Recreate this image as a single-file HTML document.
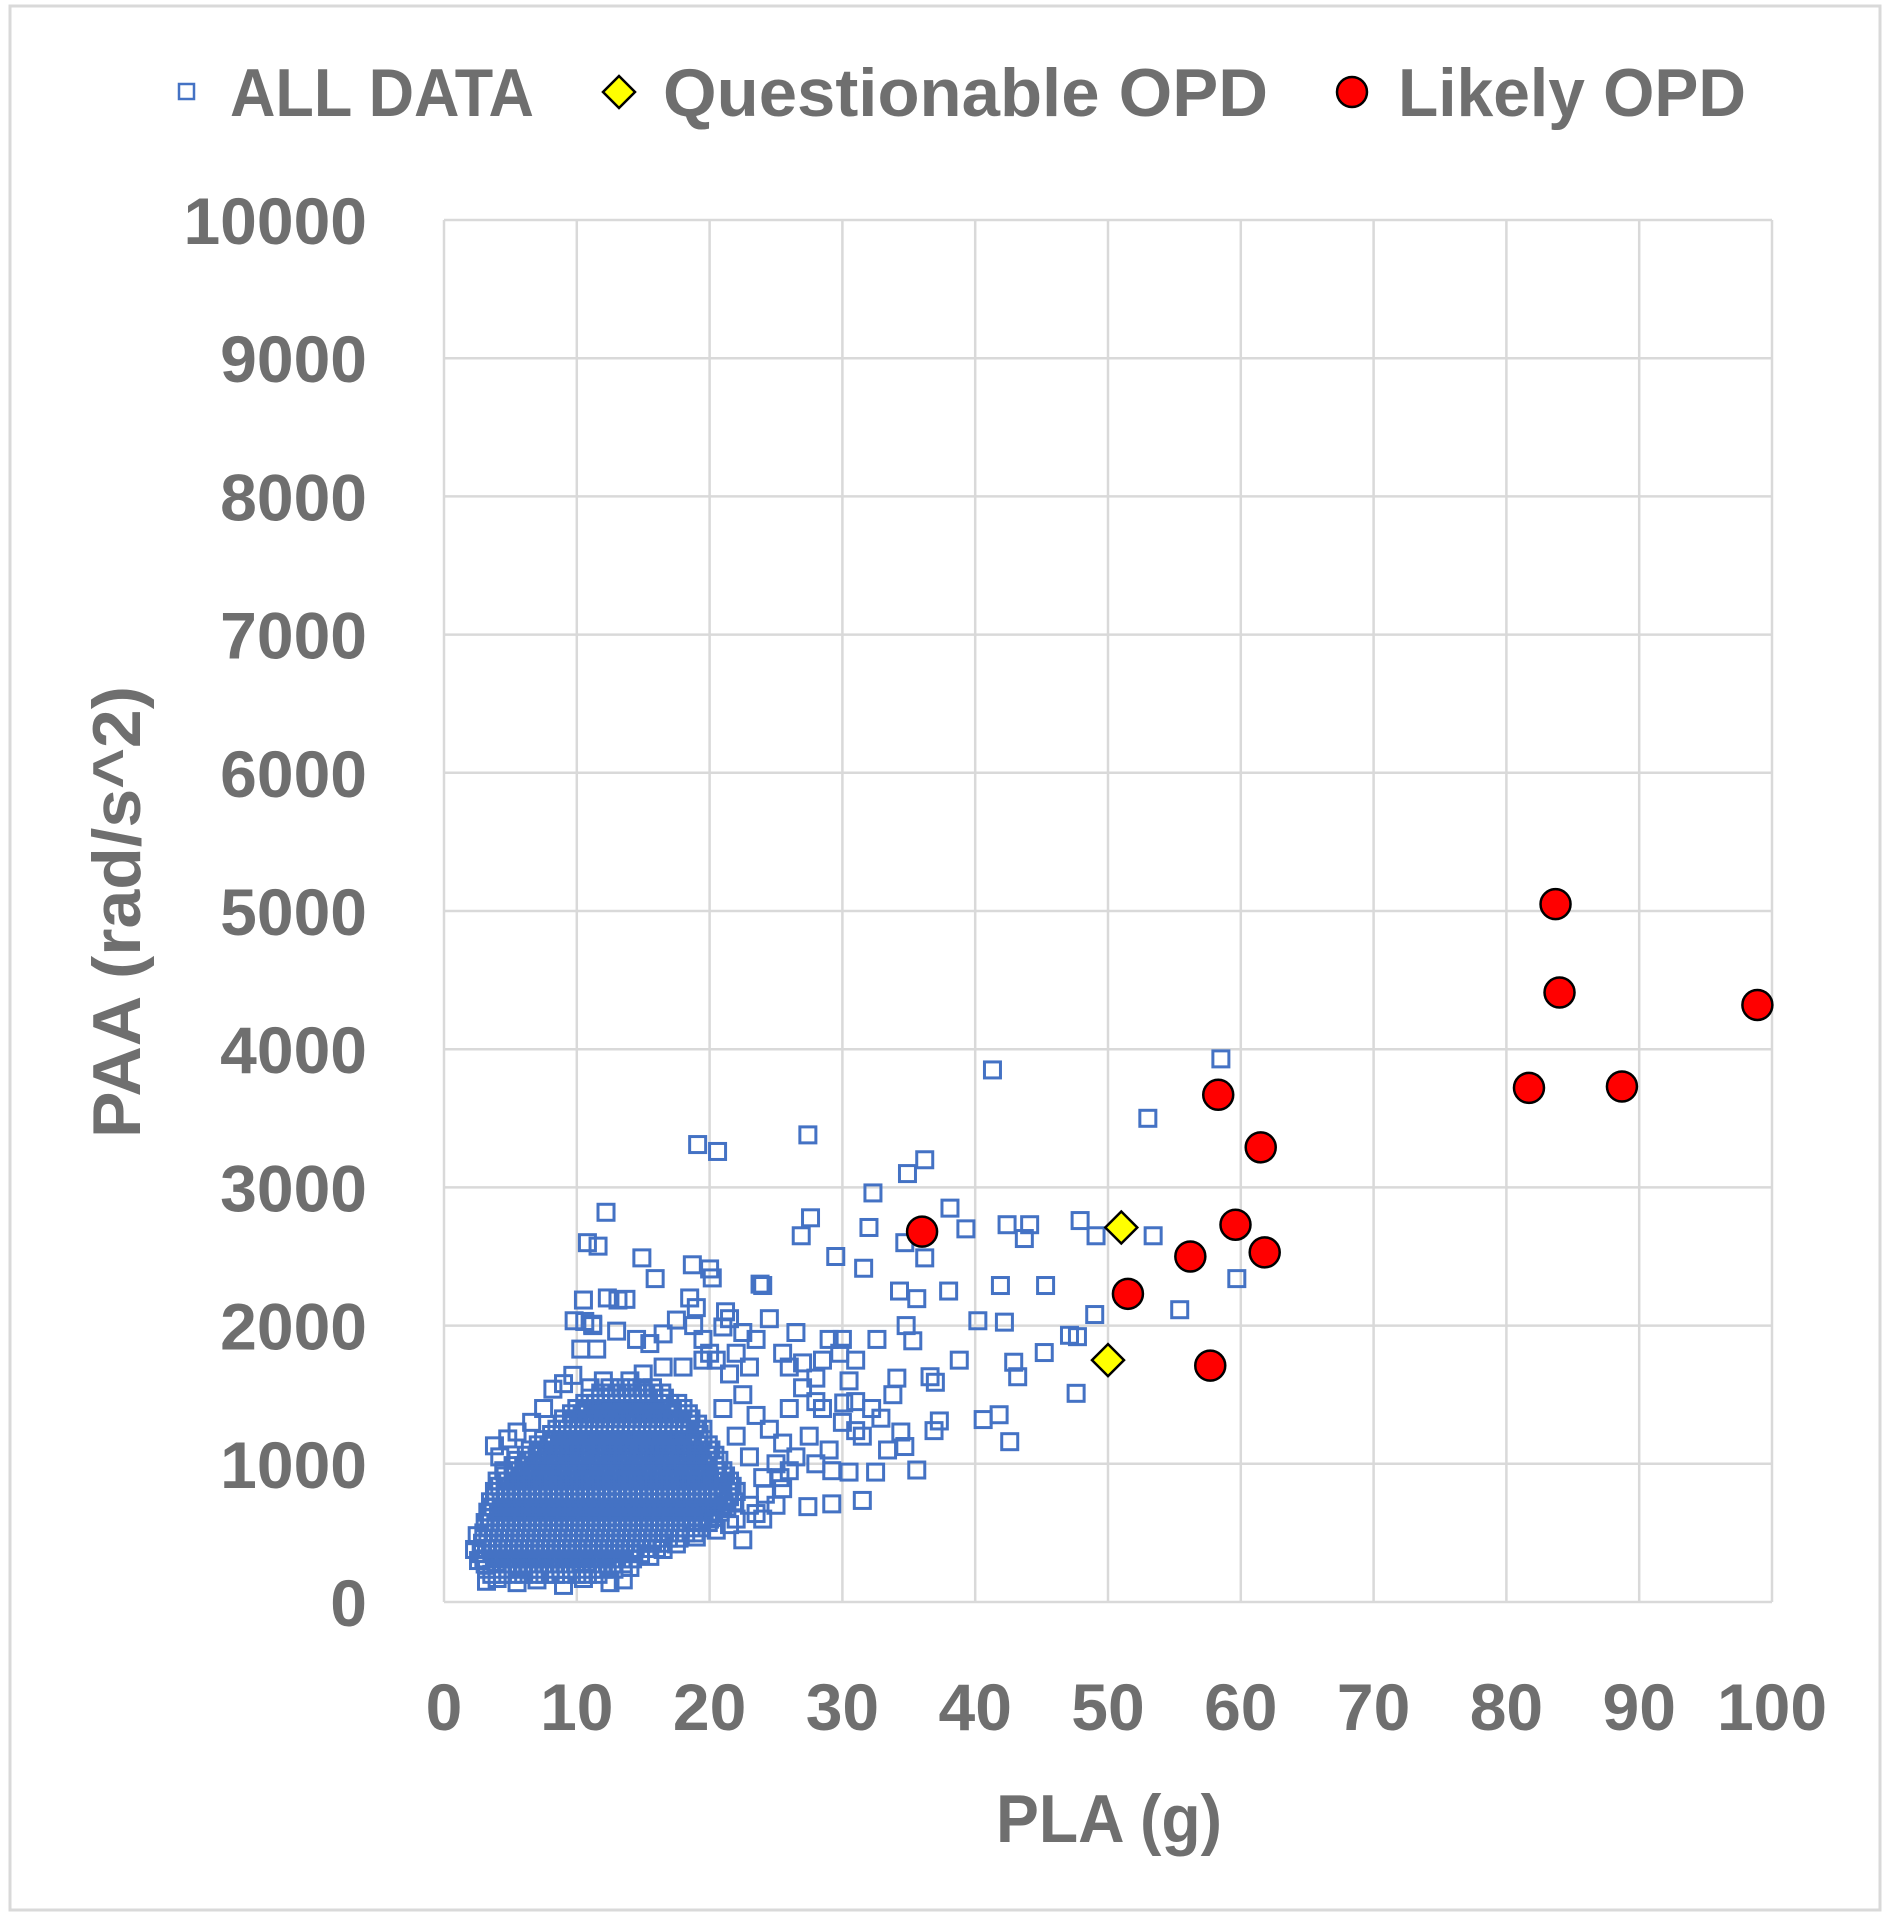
<!DOCTYPE html>
<html><head><meta charset="utf-8"><style>
html,body{margin:0;padding:0;background:#fff}
svg{display:block}
text{font-family:"Liberation Sans",sans-serif;font-weight:bold;fill:#6f6f6f}
</style></head><body>
<svg id="chart" width="1888" height="1920" viewBox="0 0 1888 1920" xmlns="http://www.w3.org/2000/svg">
<rect x="10" y="6" width="1870" height="1904" fill="#fff" stroke="#d9d9d9" stroke-width="3"/>
<g id="grid"></g>
<g id="ticks"></g>
<g id="allData"></g>
<g id="quest"></g>
<g id="likely"></g>
<g>
  <rect x="179" y="84" width="15" height="15" fill="none" stroke="#4472c4" stroke-width="2.5"/>
  <text x="230" y="116" font-size="68" textLength="304" lengthAdjust="spacingAndGlyphs">ALL DATA</text>
  <polygon points="619,76 635,92 619,108 603,92" fill="#ffff00" stroke="#000" stroke-width="2.5"/>
  <text x="663" y="116" font-size="68" textLength="605" lengthAdjust="spacingAndGlyphs">Questionable OPD</text>
  <circle cx="1352" cy="92" r="15" fill="#ff0000" stroke="#000" stroke-width="2.5"/>
  <text x="1398" y="116" font-size="68" textLength="348" lengthAdjust="spacingAndGlyphs">Likely OPD</text>
</g>
<text x="1109" y="1842" font-size="68" text-anchor="middle" textLength="226" lengthAdjust="spacingAndGlyphs">PLA (g)</text>
<text transform="translate(140,912) rotate(-90)" font-size="68" text-anchor="middle" textLength="452" lengthAdjust="spacingAndGlyphs">PAA (rad/s^2)</text>
</svg>
<script>
const xTicks=[0,10,20,30,40,50,60,70,80,90,100];
const yTicks=[0,1000,2000,3000,4000,5000,6000,7000,8000,9000,10000];
const likelyX=[36,58.3,61.5,59.6,61.8,56.2,51.5,57.7,83.7,84,81.7,88.7,98.9];
const likelyY=[2680,3670,3290,2730,2530,2500,2230,1710,5050,4410,3720,3730,4320];
const questX=[51,50];
const questY=[2710,1750];
const blobRowY=[200,275,350,425,500,575,650,725,800,875,950,1025,1100,1175,1250,1325,1400,1475,1550,
237,312,387,462,537,612,687,762,837,912,987,1062,1137,1212,1287,1362,1437,1512];
const blobRowX=[
[3.6,4.4,5.2,6.0,6.8,7.6,8.4,9.2,10.0,10.8,11.6],
[3.1,3.9,4.7,5.5,6.3,7.1,7.9,8.7,9.5,10.3,11.1,11.9,12.7,13.5],
[2.8,3.6,4.4,5.2,6.0,6.8,7.6,8.4,9.2,10.0,10.8,11.6,12.4,13.2,14.0,14.8],
[2.9,3.7,4.5,5.3,6.1,6.9,7.7,8.5,9.3,10.1,10.9,11.7,12.5,13.3,14.1,14.9,15.7,16.5],
[3.0,3.8,4.6,5.4,6.2,7.0,7.8,8.6,9.4,10.2,11.0,11.8,12.6,13.4,14.2,15.0,15.8,16.6,17.4,18.2,18.9],
[3.1,3.9,4.7,5.5,6.3,7.1,7.9,8.7,9.5,10.3,11.1,11.9,12.7,13.5,14.3,15.1,15.9,16.7,17.5,18.3,19.1,19.9],
[3.3,4.1,4.9,5.7,6.5,7.3,8.1,8.9,9.7,10.5,11.3,12.1,12.9,13.7,14.5,15.3,16.1,16.9,17.7,18.5,19.3,20.1,20.8],
[3.5,4.3,5.1,5.9,6.7,7.5,8.3,9.1,9.9,10.7,11.5,12.3,13.1,13.9,14.7,15.5,16.3,17.1,17.9,18.7,19.5,20.3,21.1,21.9],
[3.8,4.6,5.4,6.2,7.0,7.8,8.6,9.4,10.2,11.0,11.8,12.6,13.4,14.2,15.0,15.8,16.6,17.4,18.2,19.0,19.8,20.6,21.4,22.0],
[4.0,4.8,5.6,6.4,7.2,8.0,8.8,9.6,10.4,11.2,12.0,12.8,13.6,14.4,15.2,16.0,16.8,17.6,18.4,19.2,20.0,20.8,21.5],
[4.5,5.3,6.1,6.9,7.7,8.5,9.3,10.1,10.9,11.7,12.5,13.3,14.1,14.9,15.7,16.5,17.3,18.1,18.9,19.7,20.5,21.0],
[5.5,6.3,7.1,7.9,8.7,9.5,10.3,11.1,11.9,12.7,13.5,14.3,15.1,15.9,16.7,17.5,18.3,19.1,19.9,20.7],
[6.5,7.3,8.1,8.9,9.7,10.5,11.3,12.1,12.9,13.7,14.5,15.3,16.1,16.9,17.7,18.5,19.3,20.1],
[7.5,8.3,9.1,9.9,10.7,11.5,12.3,13.1,13.9,14.7,15.5,16.3,17.1,17.9,18.7,19.5],
[8.5,9.3,10.1,10.9,11.7,12.5,13.3,14.1,14.9,15.7,16.5,17.3,18.1,18.9,19.5],
[9.0,9.8,10.6,11.4,12.2,13.0,13.8,14.6,15.4,16.2,17.0,17.8,18.6],
[10.0,10.8,11.6,12.4,13.2,14.0,14.8,15.6,16.4,17.2,18.0],
[11.0,11.8,12.6,13.4,14.2,15.0,15.8,16.6],
[12.5,13.3,14.1,14.9,15.7],
[3.2,4.0,4.8,5.6,6.4,7.2,8.0,8.8,9.6,10.4,11.2,12.0,12.8],
[3.0,3.8,4.6,5.4,6.2,7.0,7.8,8.6,9.4,10.2,11.0,11.8,12.6,13.4,14.2],
[3.2,4.0,4.8,5.6,6.4,7.2,8.0,8.8,9.6,10.4,11.2,12.0,12.8,13.6,14.4,15.2,16.0],
[3.3,4.1,4.9,5.7,6.5,7.3,8.1,8.9,9.7,10.5,11.3,12.1,12.9,13.7,14.5,15.3,16.1,16.9,17.7],
[3.4,4.2,5.0,5.8,6.6,7.4,8.2,9.0,9.8,10.6,11.4,12.2,13.0,13.8,14.6,15.4,16.2,17.0,17.8,18.6,19.4],
[3.5,4.3,5.1,5.9,6.7,7.5,8.3,9.1,9.9,10.7,11.5,12.3,13.1,13.9,14.7,15.5,16.3,17.1,17.9,18.7,19.5,20.3],
[3.7,4.5,5.3,6.1,6.9,7.7,8.5,9.3,10.1,10.9,11.7,12.5,13.3,14.1,14.9,15.7,16.5,17.3,18.1,18.9,19.7,20.5,21.3],
[3.9,4.7,5.5,6.3,7.1,7.9,8.7,9.5,10.3,11.1,11.9,12.7,13.5,14.3,15.1,15.9,16.7,17.5,18.3,19.1,19.9,20.7,21.5],
[4.2,5.0,5.8,6.6,7.4,8.2,9.0,9.8,10.6,11.4,12.2,13.0,13.8,14.6,15.4,16.2,17.0,17.8,18.6,19.4,20.2,21.0,21.7],
[4.6,5.4,6.2,7.0,7.8,8.6,9.4,10.2,11.0,11.8,12.6,13.4,14.2,15.0,15.8,16.6,17.4,18.2,19.0,19.8,20.6,21.2],
[5.2,6.0,6.8,7.6,8.4,9.2,10.0,10.8,11.6,12.4,13.2,14.0,14.8,15.6,16.4,17.2,18.0,18.8,19.6,20.4],
[6.2,7.0,7.8,8.6,9.4,10.2,11.0,11.8,12.6,13.4,14.2,15.0,15.8,16.6,17.4,18.2,19.0,19.8,20.4],
[7.1,7.9,8.7,9.5,10.3,11.1,11.9,12.7,13.5,14.3,15.1,15.9,16.7,17.5,18.3,19.1,19.9],
[8.1,8.9,9.7,10.5,11.3,12.1,12.9,13.7,14.5,15.3,16.1,16.9,17.7,18.5,19.2],
[8.9,9.7,10.5,11.3,12.1,12.9,13.7,14.5,15.3,16.1,16.9,17.7,18.5,19.1],
[9.6,10.4,11.2,12.0,12.8,13.6,14.4,15.2,16.0,16.8,17.6,18.4],
[10.6,11.4,12.2,13.0,13.8,14.6,15.4,16.2,17.0,17.6],
[11.8,12.6,13.4,14.2,15.0,15.8,16.4]];
const scatterX=[2.3,2.5,2.6,3.2,4.0,5.5,7.0,9.0,10.5,12.5,13.5,14,15.5,16.5,17.5,19,20.5,21.5,22.5,23.5,24,25,25.5,26,3.8,4.2,4.8,5.5,6.6,7.5,8.2,9,9.7,10.3,11.5,10.6,11.2,12.3,13.0,13.7,14.5,15.5,16.5,17.5,18.5,19.0,19.5,21.0,21.5,22.5,23.0,24,24.5,25.5,26.5,27,28,28.5,29,29.8,30.5,21.5,22.5,23.5,24.5,25.5,26.5,27.5,28.5,22,23,24,25,26,27,28,29,30,31,31.5,20.5,21,22,23,24.2,25.3,19.5,18,16.5,15,14,12,11,20,21,22,18.8,20.0,22,23.5,26,28,30,31,
58.5,41.3,53,19.1,20.6,27.4,36.2,34.9,32.3,38.1,12.2,27.6,47.9,44.1,42.4,32,39.3,26.9,49.1,53.4,43.7,34.7,10.8,11.6,29.5,14.9,36.2,18.7,20,20.2,15.9,31.6,59.7,41.9,45.3,23.8,34.3,38,35.6,10.5,13.1,21.2,55.4,49,40.2,42.2,34.8,9.8,11.2,47.1,47.7,45.2,35.3,32.6,38.8,42.9,43.2,34.1,36.6,37,47.6,41.8,40.6,42.6,37.3,36.9,34.4,34.7,33.4,35.6,32.5,31.5,29.2,27.4,30.5,29.2,33.8,32.9,31,30.1,32.2];
const scatterY=[380,480,300,150,170,140,160,120,170,140,160,250,330,380,420,470,520,560,450,640,600,700,820,950,1130,1050,1180,1230,1300,1400,1540,1580,1640,1830,1830,2030,2000,2200,1960,2190,1900,1870,1940,2040,2200,2130,1900,1990,2050,1950,1700,2290,2050,1800,1950,1730,1620,1750,1900,1800,1600,1650,1500,1350,1250,1150,1050,1200,1400,1200,1050,900,1000,1400,1550,1000,1100,1300,1450,1200,1750,1400,800,700,780,900,1750,1700,1700,1650,1600,1600,1550,600,700,600,2000,1800,1800,1900,1700,1450,1900,1750,
3930,3850,3500,3310,3260,3380,3200,3100,2960,2850,2820,2780,2760,2730,2730,2710,2700,2650,2650,2650,2630,2600,2600,2575,2500,2490,2490,2440,2410,2345,2340,2415,2340,2290,2290,2300,2250,2250,2195,2185,2185,2100,2115,2080,2035,2025,2000,2035,2010,1930,1920,1805,1890,1900,1750,1735,1630,1620,1630,1590,1510,1355,1320,1160,1310,1240,1230,1125,1100,955,940,735,710,690,940,950,1500,1330,1240,1440,1400];

const NS='http://www.w3.org/2000/svg';
const PL=444,PR=1772,PT=220,PB=1602;
function xs(v){return PL+(v-0)/(100-0)*(PR-PL);}
function ys(v){return PB-(v-0)/(10000-0)*(PB-PT);}
function mk(tag,parent,attrs){const e=document.createElementNS(NS,tag);for(const k in attrs)e.setAttribute(k,attrs[k]);parent.appendChild(e);return e;}
const grid=document.getElementById('grid'),ticks=document.getElementById('ticks');
xTicks.forEach(t=>{
  const l=mk('line',grid,{x1:xs(t),x2:xs(t),y1:PT,y2:PB,stroke:'#d9d9d9','stroke-width':2.5});
  
  
  const tx=mk('text',ticks,{x:xs(t),y:1730,'font-size':66,'text-anchor':'middle'});
  tx.textContent=t;
  
  
});
yTicks.forEach(t=>{
  const l=mk('line',grid,{x1:PL,x2:PR,y1:ys(t),y2:ys(t),stroke:'#d9d9d9','stroke-width':2.5});
  
  
  const tx=mk('text',ticks,{x:367,y:ys(t)+24,'font-size':66,'text-anchor':'end'});
  tx.textContent=t;
  
  
});
const ad=document.getElementById('allData');
function sq(x,y){
  const r=mk('rect',ad,{x:xs(x)-8,y:ys(y)-8,width:16,height:16,fill:'none',stroke:'#4472c4','stroke-width':3});
  
  
}
blobRowY.forEach((y,i)=>blobRowX[i].forEach(x=>sq(x,y)));
scatterX.forEach((x,i)=>sq(x,scatterY[i]));
const q=document.getElementById('quest');
questX.forEach((x,i)=>{
  const cx=xs(x),cy=ys(questY[i]);
  const p=mk('polygon',q,{points:`${cx},${cy-16} ${cx+16},${cy} ${cx},${cy+16} ${cx-16},${cy}`,fill:'#ffff00',stroke:'#000','stroke-width':2.5});
  
  
});
const lk=document.getElementById('likely');
likelyX.forEach((x,i)=>{
  const c=mk('circle',lk,{cx:xs(x),cy:ys(likelyY[i]),r:15,fill:'#ff0000',stroke:'#000','stroke-width':2.5});
  
  
});
</script>
</body></html>
